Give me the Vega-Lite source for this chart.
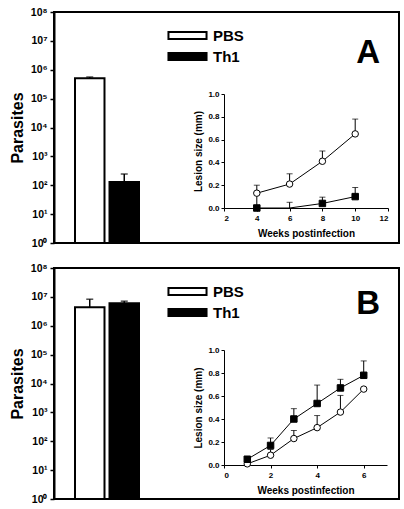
{
  "$schema": "https://vega.github.io/schema/vega-lite/v6.json",
  "background": "white",
  "padding": {"left": 8, "top": 6, "right": 0, "bottom": 0},
  "spacing": 12,
  "datasets": {
    "bars": [
      {"panel": "A", "group": "PBS", "parasites": 510000, "upper": 560000},
      {"panel": "A", "group": "Th1", "parasites": 130, "upper": 245},
      {"panel": "B", "group": "PBS", "parasites": 4400000, "upper": 8300000},
      {"panel": "B", "group": "Th1", "parasites": 6000000, "upper": 7100000}
    ],
    "lesion": [
      {"panel": "A", "group": "PBS", "week": 4, "size": 0.13, "upper": 0.20},
      {"panel": "A", "group": "PBS", "week": 6, "size": 0.21, "upper": 0.30},
      {"panel": "A", "group": "PBS", "week": 8, "size": 0.41, "upper": 0.50},
      {"panel": "A", "group": "PBS", "week": 10, "size": 0.65, "upper": 0.78},
      {"panel": "A", "group": "Th1", "week": 4, "size": 0.0, "upper": 0.13},
      {"panel": "A", "group": "Th1", "week": 6, "size": -0.06, "upper": 0.05},
      {"panel": "A", "group": "Th1", "week": 8, "size": 0.04, "upper": 0.095},
      {"panel": "A", "group": "Th1", "week": 10, "size": 0.10, "upper": 0.18},
      {"panel": "B", "group": "PBS", "week": 1, "size": 0.01, "upper": null},
      {"panel": "B", "group": "PBS", "week": 2, "size": 0.085, "upper": 0.135},
      {"panel": "B", "group": "PBS", "week": 3, "size": 0.23, "upper": 0.30},
      {"panel": "B", "group": "PBS", "week": 4, "size": 0.325, "upper": 0.43},
      {"panel": "B", "group": "PBS", "week": 5, "size": 0.46, "upper": 0.605},
      {"panel": "B", "group": "PBS", "week": 6, "size": 0.66, "upper": null},
      {"panel": "B", "group": "Th1", "week": 1, "size": 0.05, "upper": null},
      {"panel": "B", "group": "Th1", "week": 2, "size": 0.17, "upper": 0.235},
      {"panel": "B", "group": "Th1", "week": 3, "size": 0.40, "upper": 0.49},
      {"panel": "B", "group": "Th1", "week": 4, "size": 0.535, "upper": 0.695},
      {"panel": "B", "group": "Th1", "week": 5, "size": 0.67, "upper": 0.745},
      {"panel": "B", "group": "Th1", "week": 6, "size": 0.78, "upper": 0.905}
    ]
  },
  "config": {
    "font": "Liberation Sans",
    "view": {"stroke": "black", "strokeWidth": 2},
    "axis": {
      "grid": false,
      "labelFont": "Liberation Sans",
      "labelFontWeight": "bold",
      "labelColor": "black",
      "titleFont": "Liberation Sans",
      "titleFontWeight": "bold",
      "titleColor": "black",
      "domainColor": "black",
      "tickColor": "black"
    }
  },
  "resolve": {"legend": {"color": "independent"}},
  "vconcat": [
    {
      "width": 345,
      "height": 231,
      "title": {"text": "A", "orient": "none", "anchor": "end", "frame": "group", "font": "Liberation Sans", "fontSize": 33, "fontWeight": "bold", "color": "black", "offset": 0, "baseline": "alphabetic", "dx": 326, "dy": 51},
      "resolve": {"scale": {"x": "independent", "y": "independent"}},
      "layer": [
        {
          "data": {"name": "bars"},
          "transform": [{"filter": "datum.panel === 'A'"}],
          "encoding": {
            "x": {"field": "group", "type": "nominal", "axis": null, "scale": {"range": [21, 85], "paddingInner": 0.145, "paddingOuter": 0}}
          },
          "layer": [
            {
              "mark": {"type": "rule", "color": "black", "strokeWidth": 1.5},
              "encoding": {
                "y": {"field": "parasites", "type": "quantitative", "scale": {"type": "log", "domain": [1, 100000000]},
                  "axis": {"title": "Parasites", "values": [1, 10, 100, 1000, 10000, 100000, 1000000, 10000000, 100000000],
                    "labelExpr": "'10' + ['⁰','¹','²','³','⁴','⁵','⁶','⁷','⁸'][round(log(datum.value)/LN10)]",
                    "tickSize": 4, "tickWidth": 1.5, "domainWidth": 2, "labelFontSize": 10.5, "labelPadding": 3, "titleFontSize": 16, "titlePadding": 5}},
                "y2": {"field": "upper"}
              }
            },
            {
              "mark": {"type": "tick", "orient": "horizontal", "size": 7, "thickness": 1.5, "color": "black"},
              "encoding": {"y": {"field": "upper", "type": "quantitative"}}
            },
            {
              "mark": {"type": "bar", "stroke": "black", "strokeWidth": 2},
              "encoding": {
                "y": {"field": "parasites", "type": "quantitative"},
                "y2": {"datum": 1},
                "color": {"field": "group", "type": "nominal", "scale": {"domain": ["PBS", "Th1"], "range": ["white", "black"]},
                  "legend": {"orient": "none", "legendX": 126, "legendY": 16, "title": null, "padding": 0,
                    "symbolType": "M-5,-0.9H5V0.9H-5Z", "symbolSize": 58, "symbolStrokeColor": "black", "symbolStrokeWidth": 2,
                    "labelFont": "Liberation Sans", "labelFontSize": 15, "labelFontWeight": "bold", "labelColor": "black", "labelOffset": 18, "rowPadding": 5}}
              }
            }
          ]
        },
        {
          "data": {"name": "lesion"},
          "transform": [{"filter": "datum.panel === 'A'"}],
          "encoding": {
            "x": {"field": "week", "type": "quantitative", "scale": {"domain": [2, 12], "range": [170, 334]},
              "axis": {"title": "Weeks postinfection", "orient": "bottom", "offset": -35, "values": [2, 4, 6, 8, 10, 12], "format": "d", "tickSize": 3, "labelFontSize": 8, "labelPadding": 3, "titleFontSize": 10, "titlePadding": 6}},
            "y": {"field": "size", "type": "quantitative", "scale": {"domain": [0, 1], "range": [196, 82], "clamp": true},
              "axis": {"title": "Lesion size (mm)", "orient": "left", "offset": -170, "values": [0, 0.2, 0.4, 0.6, 0.8, 1], "format": ".1f", "tickSize": 3, "labelFontSize": 8, "labelPadding": 2, "titleFontSize": 10, "titlePadding": 4}}
          },
          "layer": [
            {
              "data": {"values": [{}]},
              "mark": {"type": "rect", "fill": null, "stroke": "black", "strokeWidth": 1},
              "encoding": {"x": {"datum": 2}, "x2": {"datum": 12}, "y": {"datum": 0}, "y2": {"datum": 1}}
            },
            {
              "transform": [{"filter": "datum.upper != null"}],
              "mark": {"type": "rule", "color": "black", "strokeWidth": 1},
              "encoding": {"y2": {"field": "upper"}}
            },
            {
              "transform": [{"filter": "datum.upper != null"}],
              "mark": {"type": "tick", "orient": "horizontal", "size": 6, "thickness": 1, "color": "black"},
              "encoding": {"y": {"field": "upper", "type": "quantitative"}}
            },
            {
              "mark": {"type": "line", "color": "black", "strokeWidth": 1},
              "encoding": {"detail": {"field": "group"}}
            },
            {
              "transform": [{"filter": "datum.size >= 0"}],
              "mark": {"type": "point", "filled": true, "stroke": "black", "strokeWidth": 1, "opacity": 1, "size": 42},
              "encoding": {
                "fill": {"field": "group", "type": "nominal", "scale": {"domain": ["PBS", "Th1"], "range": ["white", "black"]}, "legend": null},
                "shape": {"field": "group", "type": "nominal", "scale": {"domain": ["PBS", "Th1"], "range": ["circle", "square"]}, "legend": null}
              }
            }
          ]
        }
      ]
    },
    {
      "width": 345,
      "height": 231,
      "title": {"text": "B", "orient": "none", "anchor": "end", "frame": "group", "font": "Liberation Sans", "fontSize": 33, "fontWeight": "bold", "color": "black", "offset": 0, "baseline": "alphabetic", "dx": 326, "dy": 46},
      "resolve": {"scale": {"x": "independent", "y": "independent"}},
      "layer": [
        {
          "data": {"name": "bars"},
          "transform": [{"filter": "datum.panel === 'B'"}],
          "encoding": {
            "x": {"field": "group", "type": "nominal", "axis": null, "scale": {"range": [21, 85], "paddingInner": 0.145, "paddingOuter": 0}}
          },
          "layer": [
            {
              "mark": {"type": "rule", "color": "black", "strokeWidth": 1.5},
              "encoding": {
                "y": {"field": "parasites", "type": "quantitative", "scale": {"type": "log", "domain": [1, 100000000]},
                  "axis": {"title": "Parasites", "values": [1, 10, 100, 1000, 10000, 100000, 1000000, 10000000, 100000000],
                    "labelExpr": "'10' + ['⁰','¹','²','³','⁴','⁵','⁶','⁷','⁸'][round(log(datum.value)/LN10)]",
                    "tickSize": 4, "tickWidth": 1.5, "domainWidth": 2, "labelFontSize": 10.5, "labelPadding": 3, "titleFontSize": 16, "titlePadding": 5}},
                "y2": {"field": "upper"}
              }
            },
            {
              "mark": {"type": "tick", "orient": "horizontal", "size": 7, "thickness": 1.5, "color": "black"},
              "encoding": {"y": {"field": "upper", "type": "quantitative"}}
            },
            {
              "mark": {"type": "bar", "stroke": "black", "strokeWidth": 2},
              "encoding": {
                "y": {"field": "parasites", "type": "quantitative"},
                "y2": {"datum": 1},
                "color": {"field": "group", "type": "nominal", "scale": {"domain": ["PBS", "Th1"], "range": ["white", "black"]},
                  "legend": {"orient": "none", "legendX": 126, "legendY": 16, "title": null, "padding": 0,
                    "symbolType": "M-5,-0.9H5V0.9H-5Z", "symbolSize": 58, "symbolStrokeColor": "black", "symbolStrokeWidth": 2,
                    "labelFont": "Liberation Sans", "labelFontSize": 15, "labelFontWeight": "bold", "labelColor": "black", "labelOffset": 18, "rowPadding": 5}}
              }
            }
          ]
        },
        {
          "data": {"name": "lesion"},
          "transform": [{"filter": "datum.panel === 'B'"}],
          "encoding": {
            "x": {"field": "week", "type": "quantitative", "scale": {"domain": [0, 7], "range": [170, 333]},
              "axis": {"title": "Weeks postinfection", "orient": "bottom", "offset": -34, "values": [0, 2, 4, 6], "format": "d", "tickSize": 3, "labelFontSize": 8, "labelPadding": 3, "titleFontSize": 10, "titlePadding": 6}},
            "y": {"field": "size", "type": "quantitative", "scale": {"domain": [0, 1], "range": [197, 82], "clamp": true},
              "axis": {"title": "Lesion size (mm)", "orient": "left", "offset": -170, "values": [0, 0.2, 0.4, 0.6, 0.8, 1], "format": ".1f", "tickSize": 3, "labelFontSize": 8, "labelPadding": 2, "titleFontSize": 10, "titlePadding": 4}}
          },
          "layer": [
            {
              "data": {"values": [{}]},
              "mark": {"type": "rect", "fill": null, "stroke": "black", "strokeWidth": 1},
              "encoding": {"x": {"datum": 0}, "x2": {"datum": 7}, "y": {"datum": 0}, "y2": {"datum": 1}}
            },
            {
              "transform": [{"filter": "datum.upper != null"}],
              "mark": {"type": "rule", "color": "black", "strokeWidth": 1},
              "encoding": {"y2": {"field": "upper"}}
            },
            {
              "transform": [{"filter": "datum.upper != null"}],
              "mark": {"type": "tick", "orient": "horizontal", "size": 6, "thickness": 1, "color": "black"},
              "encoding": {"y": {"field": "upper", "type": "quantitative"}}
            },
            {
              "mark": {"type": "line", "color": "black", "strokeWidth": 1},
              "encoding": {"detail": {"field": "group"}}
            },
            {
              "transform": [{"filter": "datum.size >= 0"}],
              "mark": {"type": "point", "filled": true, "stroke": "black", "strokeWidth": 1, "opacity": 1, "size": 42},
              "encoding": {
                "fill": {"field": "group", "type": "nominal", "scale": {"domain": ["PBS", "Th1"], "range": ["white", "black"]}, "legend": null},
                "shape": {"field": "group", "type": "nominal", "scale": {"domain": ["PBS", "Th1"], "range": ["circle", "square"]}, "legend": null}
              }
            }
          ]
        }
      ]
    }
  ]
}
